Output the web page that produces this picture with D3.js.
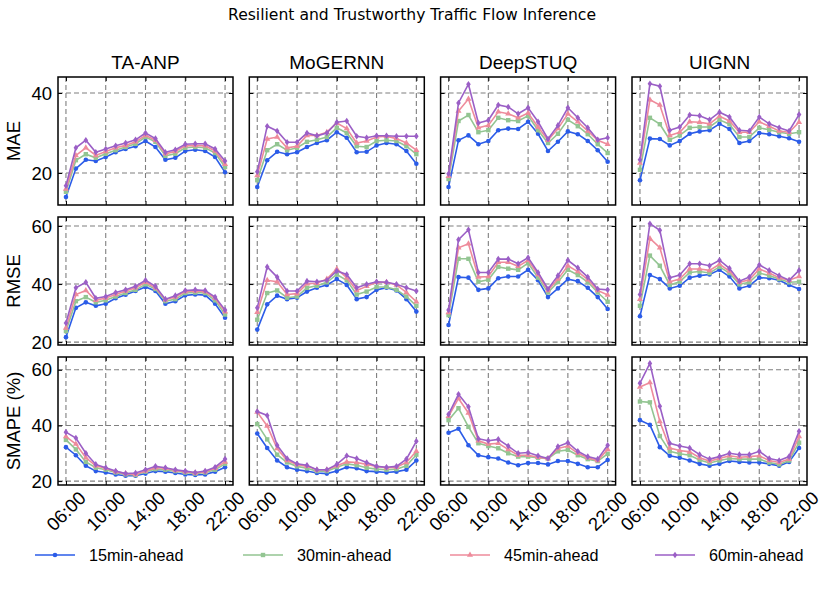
<html>
<head>
<script src="https://cdn.jsdelivr.net/npm/d3@7"></script>
<style>
body { margin: 0; background: #fff; }
svg text { font-family: "Liberation Sans", Arial, sans-serif; }
</style>
</head>
<body>
<svg id="chart" width="822" height="600"></svg>
<script>
// hours on the x axis (06:00 .. 22:00, hourly)
var hours = d3.range(6, 23);
var tickHours = [6, 10, 14, 18, 22];
var models = ["TA-ANP", "MoGERNN", "DeepSTUQ", "UIGNN"];
var metrics = ["MAE", "RMSE", "SMAPE (%)"];
var horizons = ["15min-ahead", "30min-ahead", "45min-ahead", "60min-ahead"];
var colors = ["#2b5ce8", "#93c592", "#ee8b9b", "#9b5fc6"];
var yTicks = [[20, 40], [20, 40, 60], [20, 40, 60]];
var yDomains = [[12, 44], [19, 63.1], [18.6, 64.6]];

// each array: [15min, 30min, 45min, 60min]
var maeTAANP = [
  [14, 21.1, 23.3, 23, 24, 25.2, 26, 26.7, 28, 26.5, 23.3, 23.8, 25.5, 25.8, 25.5, 24, 20.2],
  [15.3, 23.2, 24.7, 23.8, 24.8, 25.7, 26.5, 27.3, 29, 27.8, 24.3, 24.8, 26.3, 26.5, 26.3, 25, 21.5],
  [16, 24.4, 26.3, 24.4, 25.4, 26.3, 26.9, 27.8, 29.4, 28.2, 24.8, 25.4, 26.8, 26.9, 26.8, 25.5, 22.2],
  [16.8, 26.3, 28.2, 25.2, 26, 26.8, 27.5, 28.3, 30, 28.6, 25.2, 25.8, 27.2, 27.3, 27.3, 26, 23]
];
var maeMoGERNN = [
  [16.5, 23.2, 25.3, 24.7, 25.2, 26.5, 27.5, 28.2, 30.2, 28.8, 25.2, 25.3, 26.9, 27.5, 27.2, 25.5, 22.3],
  [18.2, 25.7, 27.2, 25.7, 26.3, 27.8, 28.3, 29, 31.3, 30, 26.7, 26.5, 28, 28.2, 28, 26.7, 24.7],
  [19.4, 28.5, 29, 26.3, 26.7, 29.4, 29.4, 30.2, 32.5, 31.1, 27.5, 28, 29, 29.2, 28.6, 27.5, 25.7],
  [20.3, 31.7, 30.5, 27.7, 27.7, 30, 29.3, 30, 32.7, 33, 29.2, 28.8, 29.3, 29.3, 29.2, 29.2, 29.2]
];
var maeDeepSTUQ = [
  [16.5, 28.2, 29.4, 27.2, 28, 30.7, 31.1, 31, 32.8, 29.8, 25.5, 27.8, 30.4, 29.7, 28, 25.7, 22.8],
  [18.5, 33, 34.5, 30.2, 30.7, 33.8, 33.2, 33, 34.3, 30.7, 27.5, 29.8, 33.3, 31.7, 29.7, 27.2, 25],
  [19.2, 35.5, 38.5, 31.3, 31.9, 35.3, 34.8, 33.8, 35, 31.5, 28.2, 31.1, 34.8, 32.8, 30.5, 28.2, 27.2],
  [19.8, 37.5, 42.2, 32.5, 33.2, 37, 36.5, 34.8, 36.3, 32.8, 28.5, 31.9, 36.3, 33.8, 31.3, 28.3, 28.8]
];
var maeUIGNN = [
  [18.2, 28.6, 28.5, 26.9, 28, 29.8, 30.4, 30.7, 32.3, 31, 27.5, 28, 30, 29.7, 29.2, 28.7, 27.8],
  [20.8, 33.8, 32.2, 28.3, 29.4, 31.3, 31.5, 31.5, 33.3, 32.2, 29, 29, 31.3, 30.8, 30.2, 29.8, 30.2],
  [22.5, 38.3, 37, 29.4, 30.2, 32.8, 32.7, 32.3, 34.2, 33, 30.2, 30.2, 32.8, 31.7, 30.5, 30.2, 32.7],
  [23.3, 42.3, 41.7, 30.7, 31.5, 34.5, 34.3, 33.3, 35.2, 34, 30.7, 30.5, 34, 32.3, 31.3, 30.5, 34.6]
];
var rmseTAANP = [
  [21.7, 31.8, 33.7, 32.5, 33.2, 35.1, 36.3, 37.6, 39, 37.6, 33.2, 34.1, 36.1, 36.4, 36.2, 33.2, 28.4],
  [23.8, 34.1, 35.5, 33.7, 34.4, 35.7, 36.9, 38, 39.9, 38.3, 34.1, 34.8, 36.9, 37.1, 36.9, 34.4, 29.5],
  [24.9, 36.4, 37.8, 34.4, 35.2, 36.4, 37.6, 38.7, 40.6, 38.7, 34.6, 35.5, 37.4, 37.6, 37.4, 35.1, 30.5],
  [26.6, 38.7, 40.6, 35.1, 35.7, 37.1, 38, 39.2, 41.3, 39.2, 34.8, 36, 37.8, 38, 37.8, 35.5, 31.1]
];
var rmseMoGERNN = [
  [24.3, 33, 36, 34.8, 35.3, 37.4, 38.7, 39.7, 41.7, 39.7, 34.8, 35.5, 38, 38.7, 37.8, 34.8, 30.5],
  [27.7, 36.9, 37.8, 35.3, 35.7, 38.7, 39.4, 40.6, 43.3, 41.3, 36.4, 37.4, 39, 39, 38, 35.7, 32.5],
  [30.3, 41.3, 40.8, 36.4, 36.7, 40.1, 40.3, 41.7, 45.2, 42.2, 37.8, 39.2, 40.6, 40.6, 39.7, 37.1, 33.9],
  [31.8, 45.9, 42.4, 37.6, 37.6, 41, 40.8, 41.3, 44.5, 43.3, 38.7, 39.9, 40.8, 40.6, 39.9, 38.7, 37.6]
];
var rmseDeepSTUQ = [
  [25.9, 42.4, 42.2, 38, 38.5, 42, 42.6, 42.6, 44.9, 41.3, 35.5, 38.5, 41.7, 41, 38.7, 35.5, 31.4],
  [29.3, 48.7, 48.7, 40.8, 41.5, 45.9, 45.3, 44.9, 47.2, 42.2, 37.1, 40.7, 44.9, 43.1, 40.7, 37.1, 33.9],
  [30.2, 52.5, 53.9, 42.4, 42.6, 47.5, 47.5, 46.1, 48.2, 43.3, 37.8, 41.7, 46.3, 44.3, 41.5, 37.8, 36.2],
  [31.1, 55.3, 58.7, 44, 44, 48.6, 48.6, 47, 49.1, 44, 38.3, 42.9, 48.2, 45.6, 42.4, 38.3, 38]
];
var rmseUIGNN = [
  [28.9, 43.1, 41.7, 38.5, 39.4, 42.2, 42.9, 43.3, 44.9, 42.6, 38.5, 39.4, 42.2, 42, 41.3, 39.7, 38.3],
  [32.5, 49.8, 46.3, 39.7, 40.8, 44, 44.3, 43.8, 45.9, 43.8, 39.9, 40.6, 43.8, 42.9, 41.7, 40.6, 40.8],
  [34.8, 55.7, 52.5, 40.8, 41.7, 45.2, 45.2, 44.7, 46.8, 44.5, 40.6, 41.5, 45.2, 43.8, 42.2, 41.3, 42.6],
  [36.4, 60.8, 58.5, 42.2, 43.1, 47, 47, 46.3, 48.2, 45.4, 41, 42.4, 46.6, 44.7, 42.9, 41.3, 44.7]
];
var smapeTAANP = [
  [32.2, 29.3, 25.5, 23.6, 23.1, 22.4, 21.9, 21.9, 22.7, 23.6, 23.4, 22.9, 22.4, 22.2, 22.4, 23.4, 25],
  [34.8, 31.4, 26.9, 24.8, 24.1, 23.1, 22.4, 22.2, 23.4, 24.3, 24.1, 23.6, 23.1, 22.7, 23.1, 24.1, 26.2],
  [36, 33.3, 28.4, 25.5, 24.6, 23.4, 22.7, 22.4, 23.6, 24.8, 24.6, 23.8, 23.4, 22.9, 23.4, 24.6, 26.9],
  [37.6, 35.5, 30, 26, 24.8, 23.6, 22.7, 22.9, 24.1, 25.3, 24.8, 24.1, 23.6, 23.1, 23.6, 25, 27.9]
];
var smapeMoGERNN = [
  [37.1, 31.9, 27.4, 25, 24.1, 23.6, 22.9, 22.7, 23.6, 25, 24.6, 23.6, 23.4, 23.1, 23.4, 24.1, 27.4],
  [40.5, 35, 29.5, 26.7, 25.3, 24.6, 23.6, 23.6, 25, 26.2, 25.7, 24.8, 24.3, 24.1, 24.3, 25.5, 29.5],
  [44.8, 39.8, 31.7, 27.4, 26, 25.3, 24.1, 24.1, 25.5, 26.9, 26.7, 26, 25.3, 24.8, 25, 26.7, 30.7],
  [45, 43.6, 32.9, 28.1, 26.2, 25.7, 24.1, 24.1, 26, 29.1, 28.1, 26.7, 25.3, 25, 25.3, 27.9, 34.3]
];
var smapeDeepSTUQ = [
  [37.4, 38.8, 32.9, 29.3, 28.6, 28.1, 26.7, 25.7, 26.5, 26.5, 26, 27.2, 27.2, 26.2, 25, 25, 27.6],
  [41.9, 46.2, 39.5, 33.6, 32.6, 31.8, 30, 28.8, 28.8, 28.4, 28.1, 30.7, 31.2, 29.3, 27.9, 27.2, 29.8],
  [43.3, 49.7, 44.5, 34.5, 33.3, 33.6, 31.4, 29.3, 29.3, 28.6, 28.1, 31.7, 32.6, 30, 28.4, 27.4, 31.4],
  [44, 51.2, 46.7, 35.2, 34.5, 35, 32.6, 30, 30.3, 29.1, 28.1, 32.4, 33.8, 30.7, 28.8, 27.9, 32.9]
];
var smapeUIGNN = [
  [41.9, 40.2, 32.2, 29.1, 28.4, 27.4, 26.2, 25.5, 26.2, 27.2, 26.9, 26.7, 26.7, 26.2, 25.5, 26.9, 31.9],
  [48.6, 48.3, 36.2, 30.7, 29.8, 29.3, 27.6, 26.5, 27.4, 28.1, 27.9, 27.9, 27.9, 26.7, 26, 27.4, 33.8],
  [53.8, 55.4, 41.4, 31.9, 31, 30.5, 28.4, 27.2, 28.1, 29.1, 28.6, 28.8, 29.1, 27.4, 26.7, 27.9, 36],
  [55.2, 62.3, 46.9, 33.6, 32.6, 31.9, 29.5, 27.9, 28.8, 30, 29.5, 29.5, 30.7, 28.1, 27.4, 28.8, 37.9]
];

var table = [
  [maeTAANP, maeMoGERNN, maeDeepSTUQ, maeUIGNN],
  [rmseTAANP, rmseMoGERNN, rmseDeepSTUQ, rmseUIGNN],
  [smapeTAANP, smapeMoGERNN, smapeDeepSTUQ, smapeUIGNN]
];

var colLeft = [58, 249.3, 440.6, 632];
var rowTop = [77, 217, 357];
var pw = 175, ph = 128;
var fs = "18.5px";

var svg = d3.select("#chart");

svg.append("text")
  .attr("x", 412).attr("y", 20)
  .attr("text-anchor", "middle")
  .attr("font-size", "15.6px")
  .style("font-family", "'DejaVu Sans', sans-serif")
  .text("Resilient and Trustworthy Traffic Flow Inference");

var x = d3.scaleLinear().domain([5.2, 22.8]).range([0, pw]);

function marker(sel, k, c) {
  if (k == 0) {
    sel.append("circle").attr("r", 2.3).attr("fill", c);
  } else if (k == 1) {
    sel.append("rect").attr("x", -2.2).attr("y", -2.2).attr("width", 4.4).attr("height", 4.4).attr("fill", c);
  } else if (k == 2) {
    sel.append("path").attr("d", d3.symbol(d3.symbolTriangle, 16)).attr("fill", c);
  } else {
    sel.append("path").attr("d", "M0,-3.3L2.3,0L0,3.3L-2.3,0Z").attr("fill", c);
  }
}

for (var r = 0; r < 3; r++) {
  var y = d3.scaleLinear().domain(yDomains[r]).range([ph, 0]);
  for (var c = 0; c < 4; c++) {
    var g = svg.append("g").attr("transform", "translate(" + colLeft[c] + "," + rowTop[r] + ")");

    // grid
    g.selectAll(".vg").data(tickHours).enter().append("line")
      .attr("x1", function(d) { return x(d); }).attr("x2", function(d) { return x(d); })
      .attr("y1", 0).attr("y2", ph)
      .attr("stroke", "#7f7f7f").attr("stroke-width", 1.1).attr("stroke-dasharray", "5,3");
    g.selectAll(".hg").data(yTicks[r]).enter().append("line")
      .attr("y1", function(d) { return y(d); }).attr("y2", function(d) { return y(d); })
      .attr("x1", 0).attr("x2", pw)
      .attr("stroke", "#7f7f7f").attr("stroke-width", 1.1).attr("stroke-dasharray", "5,3");

    var series = table[r][c];
    for (var k = 0; k < 4; k++) {
      var pts = series[k].map(function(v, i) { return [hours[i], v]; });
      g.append("path").datum(pts)
        .attr("fill", "none").attr("stroke", colors[k]).attr("stroke-width", 1.6)
        .attr("d", d3.line().x(function(d) { return x(d[0]); }).y(function(d) { return y(d[1]); }));
      var ms = g.selectAll(".m" + k).data(pts).enter().append("g")
        .attr("transform", function(d) { return "translate(" + x(d[0]) + "," + y(d[1]) + ")"; });
      marker(ms, k, colors[k]);
    }

    // axes with inward ticks on all sides
    g.append("g").attr("transform", "translate(0," + ph + ")")
      .call(d3.axisBottom(x).tickValues(tickHours).tickSize(-4).tickFormat(""));
    g.append("g")
      .call(d3.axisTop(x).tickValues(tickHours).tickSize(-4).tickFormat(""));
    g.append("g")
      .call(d3.axisLeft(y).tickValues(yTicks[r]).tickSize(-4).tickFormat(""));
    g.append("g").attr("transform", "translate(" + pw + ",0)")
      .call(d3.axisRight(y).tickValues(yTicks[r]).tickSize(-4).tickFormat(""));
    g.selectAll(".domain").remove();
    g.selectAll(".tick line").attr("stroke", "#000").attr("stroke-width", 1);

    g.append("rect").attr("width", pw).attr("height", ph)
      .attr("fill", "none").attr("stroke", "#000").attr("stroke-width", 1.5);

    if (c == 0) {
      g.selectAll(".yl").data(yTicks[r]).enter().append("text")
        .attr("x", -6).attr("y", function(d) { return y(d); })
        .attr("dy", "0.36em").attr("text-anchor", "end")
        .attr("font-size", fs).text(function(d) { return d; });
      g.append("text")
        .attr("transform", "translate(-38," + ph / 2 + ") rotate(-90)")
        .attr("text-anchor", "middle").attr("font-size", fs)
        .text(metrics[r]);
    }
    if (r == 0) {
      g.append("text").attr("x", pw / 2).attr("y", -8)
        .attr("text-anchor", "middle").attr("font-size", "19px")
        .text(models[c]);
    }
    if (r == 2) {
      g.selectAll(".xl").data(tickHours).enter().append("text")
        .attr("transform", function(d) { return "translate(" + x(d) + "," + (ph + 26) + ") rotate(-45)"; })
        .attr("text-anchor", "middle").attr("dy", "0.35em")
        .attr("font-size", fs)
        .text(function(d) { return (d < 10 ? "0" : "") + d + ":00"; });
    }
  }
}

// legend
var legX = [35, 243, 450, 655];
var leg = svg.append("g").attr("transform", "translate(0,555)");
horizons.forEach(function(h, k) {
  var lg = leg.append("g").attr("transform", "translate(" + legX[k] + ",0)");
  lg.append("line").attr("x1", 0).attr("x2", 40).attr("stroke", colors[k]).attr("stroke-width", 1.6);
  var m = lg.append("g").attr("transform", "translate(20,0)");
  marker(m, k, colors[k]);
  lg.append("text").attr("x", 54).attr("dy", "0.35em").attr("font-size", "16.2px").text(h);
});
</script>
</body>
</html>
